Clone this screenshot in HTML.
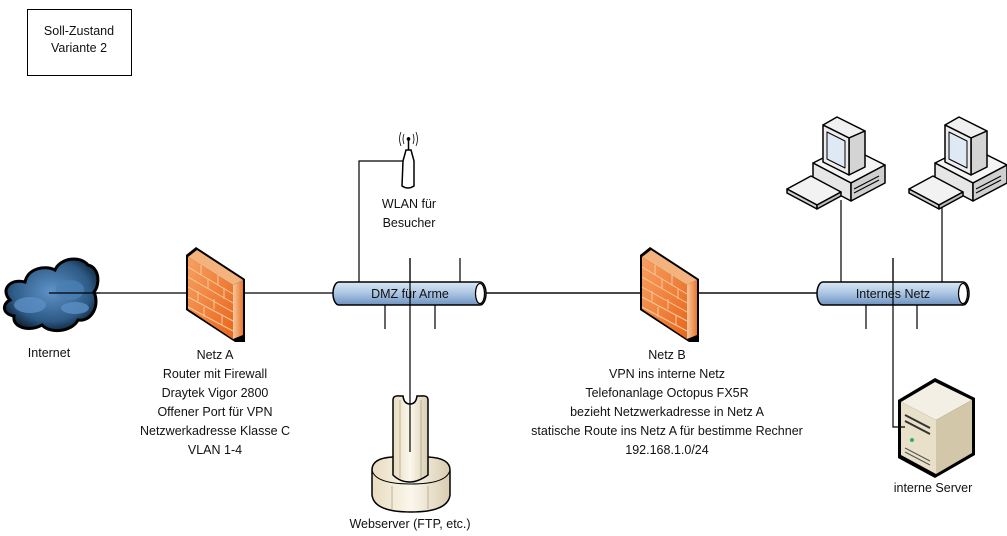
<!DOCTYPE html>
<html><head><meta charset="utf-8"><style>
html,body{margin:0;padding:0;background:#fff;}
svg{display:block;}
text{font-family:"Liberation Sans",sans-serif;font-size:12.5px;fill:#111;}
</style></head><body>
<svg width="1007" height="536" viewBox="0 0 1007 536" xmlns="http://www.w3.org/2000/svg">
<defs>
<linearGradient id="pipe" x1="0" y1="0" x2="0" y2="1">
<stop offset="0" stop-color="#dbe8f5"/><stop offset="0.5" stop-color="#a9c4e2"/><stop offset="1" stop-color="#6f93c0"/></linearGradient>
<linearGradient id="fw" x1="0" y1="0" x2="1" y2="1">
<stop offset="0" stop-color="#f8a060"/><stop offset="1" stop-color="#e8661c"/></linearGradient>
<linearGradient id="fws" x1="0" y1="0" x2="1" y2="0">
<stop offset="0" stop-color="#f6c9a0"/><stop offset="1" stop-color="#e9762d"/></linearGradient>
<radialGradient id="cl" cx="0.5" cy="0.45" r="0.6">
<stop offset="0" stop-color="#5f93c8"/><stop offset="0.7" stop-color="#2d5a85"/><stop offset="1" stop-color="#0b1a2a"/></radialGradient>
<linearGradient id="cream" x1="0" y1="0" x2="1" y2="0">
<stop offset="0" stop-color="#e8dcc0"/><stop offset="0.5" stop-color="#fbf7ec"/><stop offset="1" stop-color="#d8ccb0"/></linearGradient>
<g id="firewall">
<polygon points="0,8 10,0 59,32 59,95 49,95 0,63" fill="#000"/>
<polygon points="2,10 47,38 47,92 2,62" fill="url(#fw)"/>
<polygon points="47,38 57,33 57,88 47,92" fill="url(#fws)"/>
<polygon points="2,10 11,3 57,33 47,38" fill="#f4b27c"/>
<g stroke="#f7c9a0" stroke-width="1" fill="none">
<line x1="2" y1="20" x2="47" y2="47"/><line x1="2" y1="30" x2="47" y2="56"/><line x1="2" y1="40" x2="47" y2="65"/><line x1="2" y1="50" x2="47" y2="74"/><line x1="2" y1="60" x2="47" y2="84"/>
<line x1="15" y1="18" x2="15" y2="28"/><line x1="32" y1="28" x2="32" y2="38"/><line x1="22" y1="32" x2="22" y2="42"/><line x1="38" y1="42" x2="38" y2="52"/><line x1="12" y1="44" x2="12" y2="54"/><line x1="28" y1="52" x2="28" y2="62"/><line x1="18" y1="60" x2="18" y2="70"/><line x1="36" y1="68" x2="36" y2="78"/>
</g>
</g>
<g id="pc" stroke="#000" stroke-width="1.5" stroke-linejoin="round">
<polygon points="26,50 60,33 98,52 64,70" fill="#f4f4f4"/>
<polygon points="26,50 64,70 64,88 26,68" fill="#e6e6e6"/>
<polygon points="64,70 98,52 98,70 64,88" fill="#cfcfcf"/>
<polygon points="36,12 50,4 78,18 62,25" fill="#f0f0f0"/>
<polygon points="62,25 78,18 78,54 62,62" fill="#d4d4d4"/>
<polygon points="36,12 62,25 62,62 36,49" fill="#ececec"/>
<polygon points="40,19 58,28 58,55 40,46" fill="#dfe9f6" stroke-width="1"/>
<line x1="67" y1="76" x2="92" y2="63" stroke-width="1"/>
<line x1="67" y1="80" x2="92" y2="67" stroke-width="1"/>
<polygon points="0,76 24,63 54,79 30,92" fill="#f2f2f2"/>
<polygon points="0,76 30,92 30,96 0,80" fill="#cfcfcf"/>
<polygon points="30,92 54,79 54,83 30,96" fill="#bdbdbd"/>
</g>
</defs>

<rect x="27.5" y="9.5" width="104" height="66" fill="#fff" stroke="#000"/>
<text x="79" y="35" text-anchor="middle">Soll-Zustand</text>
<text x="79" y="52" text-anchor="middle">Variante 2</text>

<g stroke="#000" stroke-width="1.2" fill="none">
<line x1="49" y1="293" x2="820" y2="293"/>
<polyline points="359,282 359,161 405,161"/>
<line x1="410" y1="258" x2="410" y2="282"/>
<line x1="460" y1="258" x2="460" y2="282"/>
<line x1="385" y1="305" x2="385" y2="329"/>
<line x1="435" y1="305" x2="435" y2="329"/>
<line x1="841" y1="200" x2="841" y2="282"/>
<line x1="942" y1="206" x2="942" y2="282"/>
<line x1="893" y1="258" x2="893" y2="282"/>
<line x1="866" y1="305" x2="866" y2="329"/>
<line x1="917" y1="305" x2="917" y2="329"/>
</g>

<g>
<path d="M10,300 C0,290 10,278 25,282 C28,268 45,265 55,270 C60,258 80,255 88,265 C100,268 100,285 94,292 C100,305 92,322 78,320 C72,332 50,334 42,325 C30,332 12,328 14,316 C2,314 2,304 10,300 Z" fill="url(#cl)" stroke="#000" stroke-width="3"/>
<ellipse cx="30" cy="305" rx="16" ry="8" fill="#5b8ec4" opacity="0.8"/>
<ellipse cx="70" cy="290" rx="14" ry="10" fill="#4a7fb5" opacity="0.8"/>
<ellipse cx="75" cy="308" rx="14" ry="6" fill="#5b8ec4" opacity="0.8"/>
</g>
<line x1="49" y1="293" x2="100" y2="293" stroke="#000" stroke-width="1.2"/>
<text x="49" y="357" text-anchor="middle">Internet</text>

<use href="#firewall" x="186" y="247"/>
<use href="#firewall" x="640" y="247"/>
<g text-anchor="middle">
<text x="215" y="359">Netz A</text>
<text x="215" y="378">Router mit Firewall</text>
<text x="215" y="397">Draytek Vigor 2800</text>
<text x="215" y="416">Offener Port für VPN</text>
<text x="215" y="435">Netzwerkadresse Klasse C</text>
<text x="215" y="454">VLAN 1-4</text>
<text x="667" y="359">Netz B</text>
<text x="667" y="378">VPN ins interne Netz</text>
<text x="667" y="397">Telefonanlage Octopus FX5R</text>
<text x="667" y="416">bezieht Netzwerkadresse in Netz A</text>
<text x="667" y="435">statische Route ins Netz A für bestimme Rechner</text>
<text x="667" y="454">192.168.1.0/24</text>
</g>

<g>
<path d="M339,282 L480,282 A6,11.5 0 0 1 480,305 L339,305 A6,11.5 0 0 1 339,282 Z" fill="url(#pipe)" stroke="#000" stroke-width="1.5"/>
<ellipse cx="480" cy="293.5" rx="4.5" ry="10" fill="#fff" stroke="#000" stroke-width="1.2"/>
<text x="410" y="298" text-anchor="middle">DMZ für Arme</text>
</g>
<line x1="486" y1="293" x2="640" y2="293" stroke="#000" stroke-width="1.2"/>
<line x1="698" y1="293" x2="820" y2="293" stroke="#000" stroke-width="1.2"/>

<g>
<path d="M823,282 L963,282 A6,11.5 0 0 1 963,305 L823,305 A6,11.5 0 0 1 823,282 Z" fill="url(#pipe)" stroke="#000" stroke-width="1.5"/>
<ellipse cx="963" cy="293.5" rx="4.5" ry="10" fill="#fff" stroke="#000" stroke-width="1.2"/>
<text x="893" y="298" text-anchor="middle">Internes Netz</text>
</g>

<g>
<path d="M403,161 L406,150 L411,150 L414,161 L414,186 Q408,190 402,186 Z" fill="#fff" stroke="#000" stroke-width="1.5"/>
<line x1="408.5" y1="137" x2="408.5" y2="150" stroke="#000" stroke-width="1.5"/>
<circle cx="408.5" cy="139" r="1.8" fill="#000"/>
<path d="M404,134 Q402,139 404,144 M413,134 Q415,139 413,144 M401,132 Q398,139 401,146 M416,132 Q419,139 416,146" stroke="#000" stroke-width="0.8" fill="none"/>
</g>
<text x="409" y="208" text-anchor="middle">WLAN für</text>
<text x="409" y="227" text-anchor="middle">Besucher</text>

<g>
<path d="M372,470 Q372,458 393,457 L428,457 Q450,458 450,470 L450,495 Q448,512 411,512 Q374,512 372,495 Z" fill="url(#cream)" stroke="#000" stroke-width="1.5"/>
<path d="M372,470 Q375,484 411,484 Q447,484 450,470" fill="none" stroke="#000" stroke-width="1"/>
<path d="M393,400 Q393,395 400,396 L403,396 Q404,404 410,404 Q416,404 417,396 L421,396 Q428,395 428,400 L428,475 Q418,482 410,482 Q400,482 393,475 Z" fill="url(#cream)" stroke="#000" stroke-width="1.5"/>
<line x1="400" y1="400" x2="400" y2="478" stroke="#a89a7a" stroke-width="0.7"/>
<line x1="421" y1="400" x2="421" y2="478" stroke="#a89a7a" stroke-width="0.7"/>
<line x1="392" y1="486" x2="392" y2="509" stroke="#a89a7a" stroke-width="0.7"/>
<line x1="428" y1="486" x2="428" y2="509" stroke="#a89a7a" stroke-width="0.7"/>
</g>
<line x1="410" y1="258" x2="410" y2="452" stroke="#000" stroke-width="1.2"/>
<text x="410" y="528" text-anchor="middle">Webserver (FTP, etc.)</text>

<use href="#pc" x="787" y="113"/>
<use href="#pc" x="909" y="113"/>

<g>
<polygon points="898,400 935,378 975,398 975,455 935,478 898,458" fill="#000"/>
<polygon points="901,402 935,382 972,400 936,420" fill="#f3efe4"/>
<polygon points="901,402 936,420 936,474 901,455" fill="#e8e0c8"/>
<polygon points="936,420 972,400 972,453 936,474" fill="#d2c7a8"/>
<line x1="905" y1="415" x2="930" y2="428" stroke="#333" stroke-width="2"/>
<line x1="905" y1="421" x2="930" y2="434" stroke="#333" stroke-width="2"/>
<circle cx="912" cy="440" r="2" fill="#3a6"/>
<line x1="905" y1="448" x2="930" y2="461" stroke="#555"/>
<line x1="905" y1="452" x2="930" y2="465" stroke="#555"/>
</g>
<polyline points="893,258 893,427 905,427" stroke="#000" stroke-width="1.2" fill="none"/>
<text x="933" y="492" text-anchor="middle">interne Server</text>
</svg>
</body></html>
